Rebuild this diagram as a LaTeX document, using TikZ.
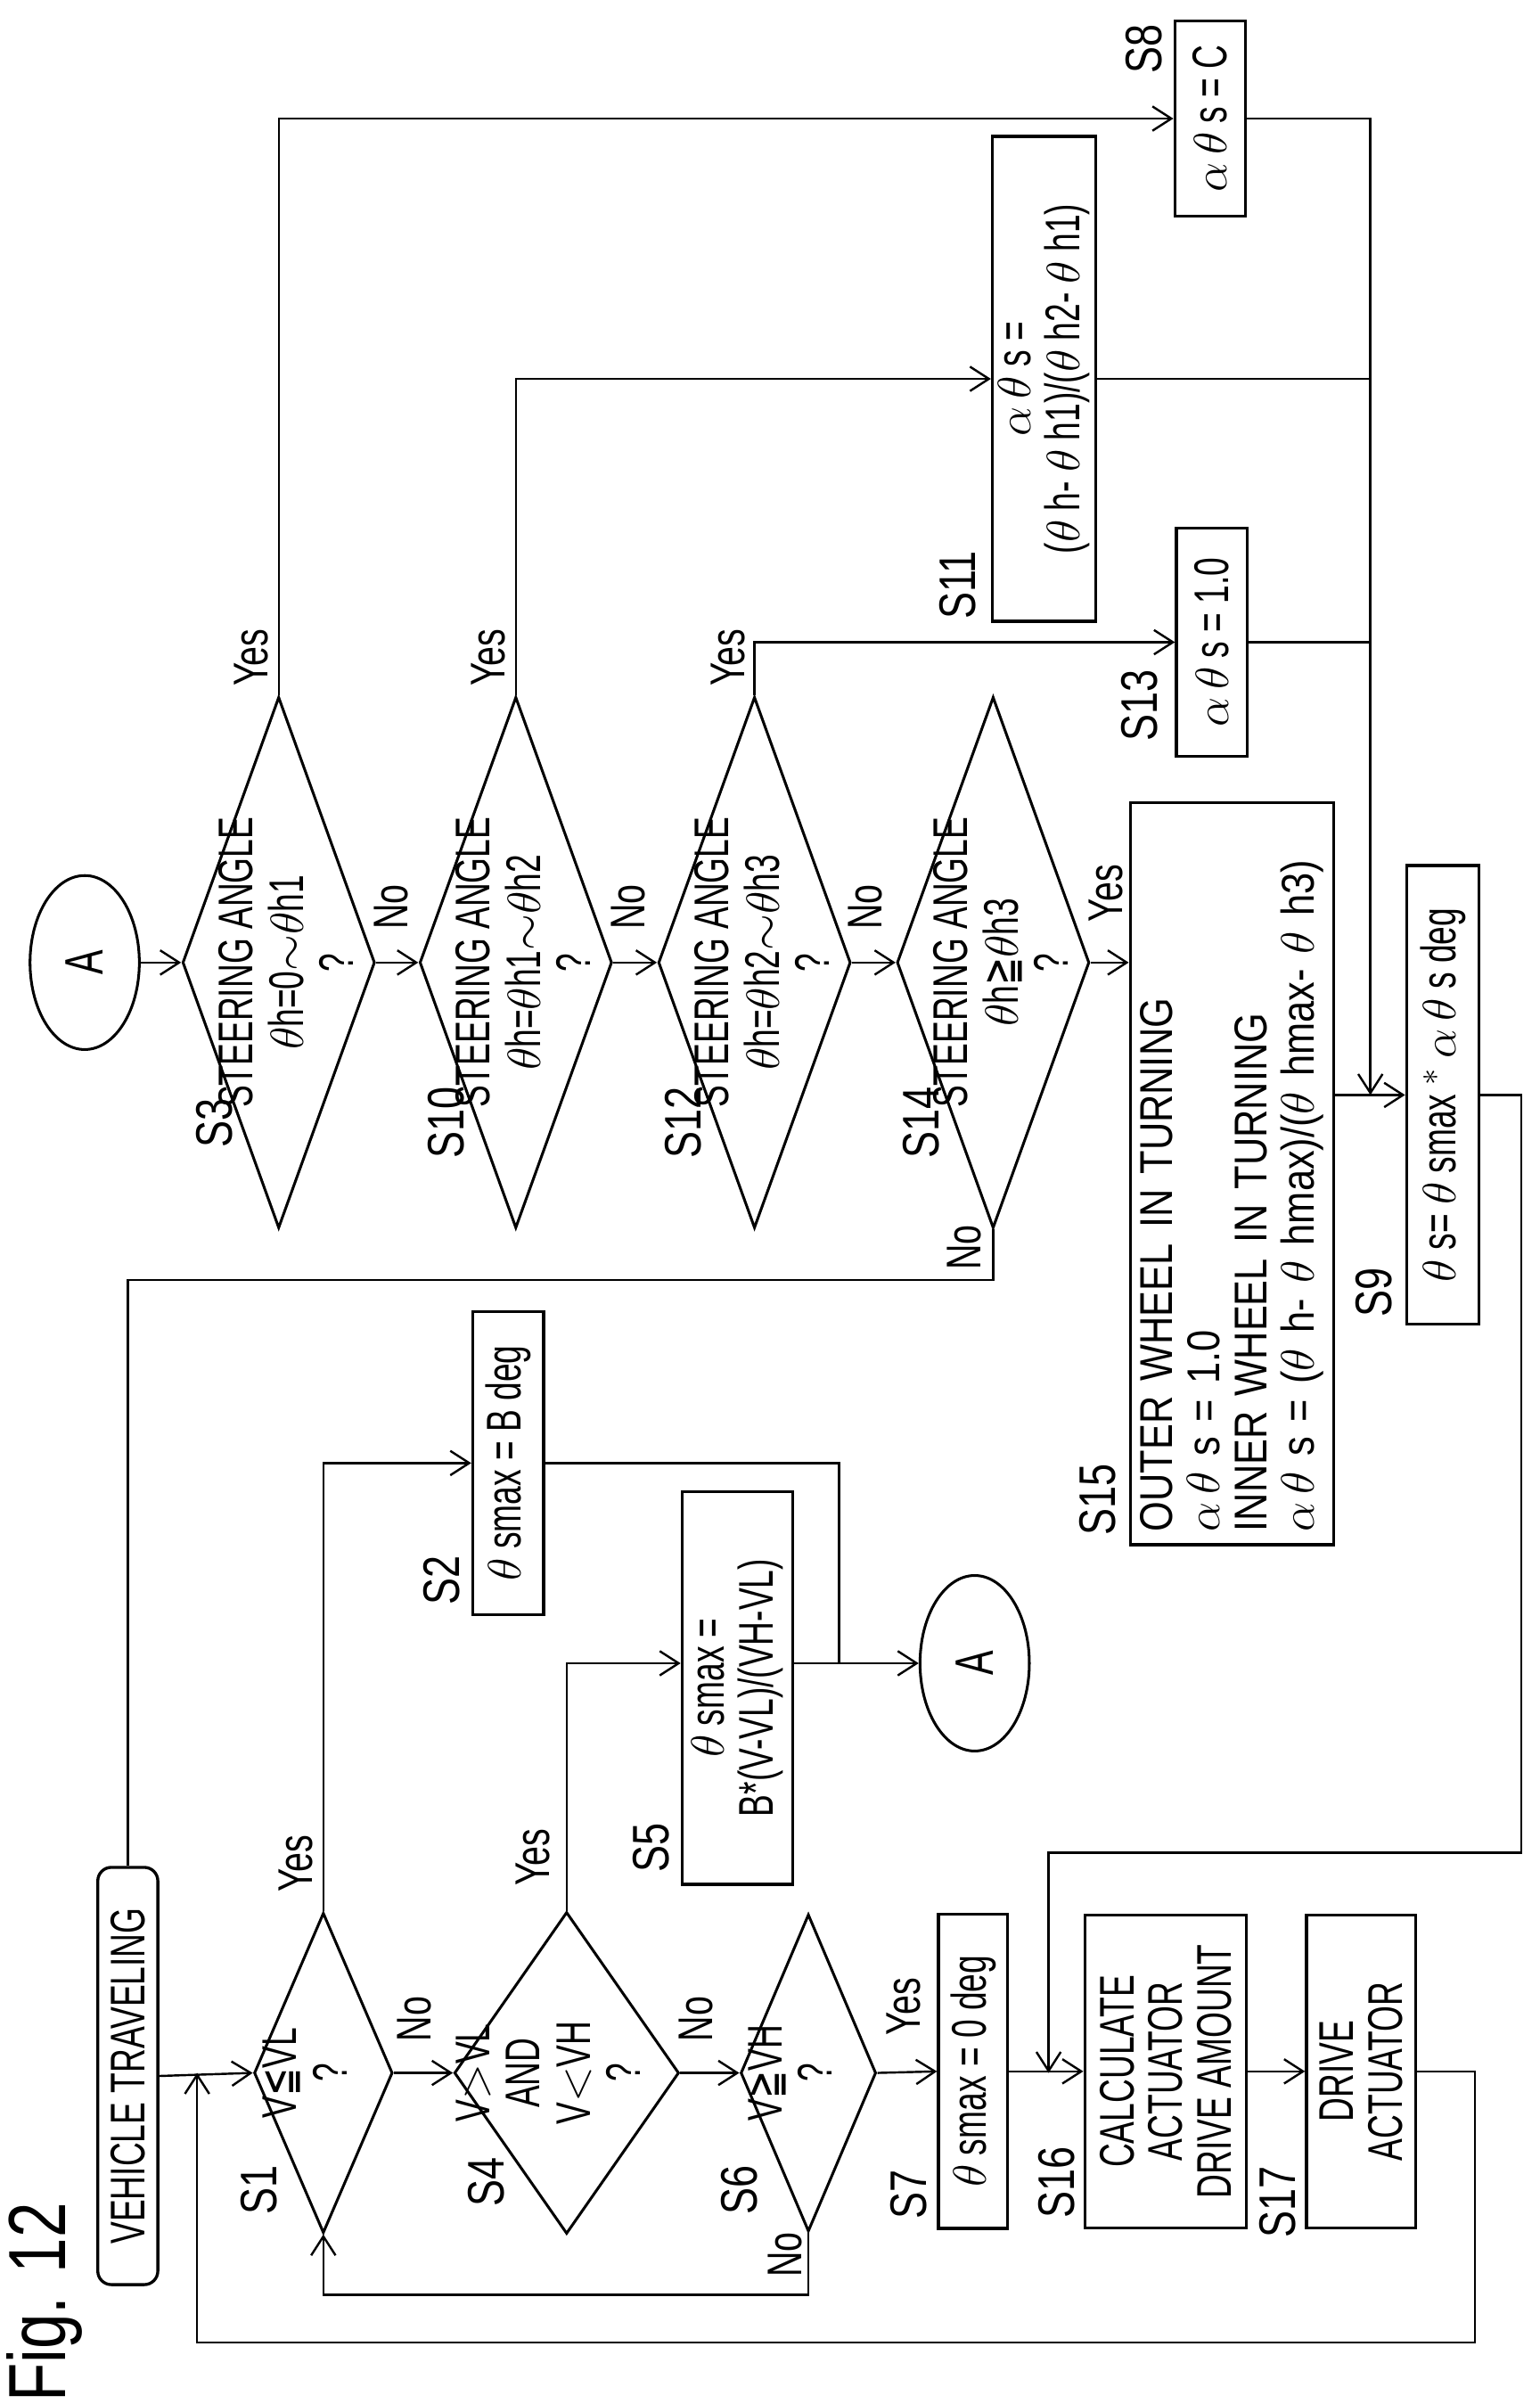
\documentclass[tikz,border=0pt]{standalone}
\usepackage{fontspec}
\setmainfont{Liberation Sans}
\newfontfamily\nf[FakeStretch=0.68]{Liberation Sans}
\newfontfamily\nfb[FakeStretch=0.72]{Liberation Sans}
\newfontfamily\stf[FakeStretch=0.78]{Liberation Sans}
\newfontfamily\wf[FakeStretch=0.84]{Liberation Sans}
\newfontfamily\dvf[FakeStretch=0.68]{DejaVu Sans}
\usetikzlibrary{shapes.geometric,arrows.meta}
\newcommand{\myle}{{\dvf ≦}}
\newcommand{\myge}{{\dvf ≧}}
\newcommand{\zt}[1]{\smash{\makebox[0pt]{\begin{tabular}{@{}c@{}}#1\end{tabular}}}}
\newcommand{\zs}[1]{\smash{\makebox[0pt]{\raisebox{-0.34cm}{\begin{tabular}{@{}c@{}}#1\end{tabular}}}}}
\begin{document}
\begin{tikzpicture}[x=0.02cm,y=-0.02cm,
  line width=0.8pt, >={Straight Barb[length=7pt,width=9pt]},
  box/.style={draw,rectangle,rotate=90,inner sep=0pt,line width=1.1pt,align=center,font=\nf\fontsize{18}{18}\selectfont},
  dia/.style={draw,diamond,rotate=90,inner sep=0pt,line width=1pt,font=\nf\fontsize{18}{18.5}\selectfont},
  ov/.style={draw,ellipse,rotate=90,inner sep=0pt,line width=1pt,font=\nf\fontsize{20}{20}\selectfont},
  st/.style={rotate=90,inner sep=0pt,font=\stf\fontsize{19}{19}\selectfont},
  yn/.style={rotate=90,inner sep=0pt,font=\nfb\fontsize{18}{18}\selectfont}]
\useasboundingbox (0,0) rectangle (1000,1561);
% nodes
\node[box,rounded corners=5pt,minimum width=5.42cm,minimum height=0.78cm] (VT) at (83,1348) {VEHICLE TRAVELING};
\node[st,font=\stf\fontsize{30}{30}\selectfont] (fig) at (29,1495) {Fig. 12};
\node[ov,minimum width=2.26cm,minimum height=1.42cm] (A1) at (55,625) {A};
\node[dia,minimum width=6.9cm,minimum height=2.5cm] (S3) at (181,625) {\zs{STEERING ANGLE\\$\theta$h=0$\sim$$\theta$h1\\?}};
\node[dia,minimum width=6.9cm,minimum height=2.5cm] (S10) at (335,625) {\zs{STEERING ANGLE\\$\theta$h=$\theta$h1$\sim$$\theta$h2\\?}};
\node[dia,minimum width=6.9cm,minimum height=2.5cm] (S12) at (490,625) {\zs{STEERING ANGLE\\$\theta$h=$\theta$h2$\sim$$\theta$h3\\?}};
\node[dia,minimum width=6.9cm,minimum height=2.5cm] (S14) at (645,625) {\zs{STEERING ANGLE\\$\theta$h\myge$\theta$h3\\?}};
\node[box,minimum width=2.54cm,minimum height=0.92cm] (S8) at (786,77) {$\alpha\,\theta$ s = C};
\node[box,minimum width=6.3cm,minimum height=1.34cm] (S11) at (678,246) {$\alpha\,\theta$ s =\\($\theta$ h- $\theta$ h1)/($\theta$ h2- $\theta$ h1)};
\node[box,minimum width=2.96cm,minimum height=0.92cm] (S13) at (787,417) {$\alpha\,\theta$ s = 1.0};
\node[box,minimum width=9.64cm,minimum height=2.64cm,text width=9.3cm,align=left,font=\wf\fontsize{17}{17.5}\selectfont] (S15) at (800,762) {OUTER WHEEL IN TURNING\\$\alpha\,\theta$ s = 1.0\\INNER WHEEL IN TURNING\\$\alpha\,\theta$ s = ($\theta$ h- $\theta$ hmax)/($\theta$ hmax- $\theta$ h3)};
\node[box,minimum width=5.96cm,minimum height=0.94cm] (S9) at (937,711) {$\theta$ s= $\theta$ smax $^*$ $\alpha\,\theta$ s deg};
\node[box,minimum width=3.94cm,minimum height=0.92cm] (S2) at (330,950) {$\theta$ smax = B deg};
\node[box,minimum width=5.1cm,minimum height=1.44cm] (S5) at (479,1096) {$\theta$ smax =\\B*(V-VL)/(VH-VL)};
\node[ov,minimum width=2.28cm,minimum height=1.42cm] (A2) at (633,1080) {A};
\node[dia,minimum width=4.16cm,minimum height=1.8cm] (S1) at (210,1346) {\zt{V\myle VL\\?}};
\node[dia,minimum width=4.18cm,minimum height=2.92cm] (S4) at (368,1346) {\zt{V$>$VL\\AND\\V$<$VH\\?}};
\node[dia,minimum width=4.12cm,minimum height=1.76cm] (S6) at (525,1346) {\zt{V\myge VH\\?}};
\node[box,minimum width=4.08cm,minimum height=0.9cm] (S7) at (632,1345) {$\theta$ smax = 0 deg};
\node[box,minimum width=4.06cm,minimum height=2.1cm] (S16) at (757,1345) {CALCULATE\\ACTUATOR\\DRIVE AMOUNT};
\node[box,minimum width=4.06cm,minimum height=1.42cm] (S17) at (884,1345) {DRIVE\\ACTUATOR};
% step labels
\node[st] (l1) at (168,1422) {S1};
\node[st] (l4) at (316,1417) {S4};
\node[st] (l6) at (480,1422) {S6};
\node[st] (l7) at (590,1425) {S7};
\node[st] (l16) at (686,1417) {S16};
\node[st] (l17) at (830,1430) {S17};
\node[st] (l2) at (287,1026) {S2};
\node[st] (l5) at (423,1200) {S5};
\node[st] (l3) at (139,729) {S3};
\node[st] (l10) at (290,729) {S10};
\node[st] (l12) at (444,729) {S12};
\node[st] (l14) at (598,729) {S14};
\node[st] (l11) at (622,380) {S11};
\node[st] (l13) at (740,458) {S13};
\node[st] (l8) at (743,32) {S8};
\node[st] (l15) at (713,974) {S15};
\node[st] (l9) at (892,839) {S9};
% yes/no
\node[yn] (y1) at (192,1210) {Yes};
\node[yn] (y4) at (346,1206) {Yes};
\node[yn] (y6) at (587,1303) {Yes};
\node[yn] (n1) at (269,1311) {No};
\node[yn] (n4) at (452,1311) {No};
\node[yn] (n6) at (510,1464) {No};
\node[yn] (y3) at (163,427) {Yes};
\node[yn] (y10) at (317,427) {Yes};
\node[yn] (y12) at (473,427) {Yes};
\node[yn] (y14) at (718,580) {Yes};
\node[yn] (n3) at (254,589) {No};
\node[yn] (n10) at (408,589) {No};
\node[yn] (n12) at (562,589) {No};
\node[yn] (n14) at (626,810) {No};
% coordinates
\coordinate (L1) at (958,1521);
\coordinate (L2) at (128,1521);
\coordinate (L3) at (128,1346);
\coordinate (N6) at (525,1490);
\coordinate (J1) at (545,1080);
\coordinate (N14) at (645,831);
\coordinate (B9) at (890,711);
\coordinate (R1) at (988,1203);
\coordinate (R2) at (681,1346);
% connectors
\draw[->] (VT.south) -- (S1.north);
\draw[->] (S17.south) -| (L1) -- (L2) -- (L3);
\draw[->] (S1.south) -- (S4.north);
\draw[->] (S4.south) -- (S6.north);
\draw[->] (S6.south) -- (S7.north);
\draw[->] (S7.south) -- (S16.north);
\draw[->] (S16.south) -- (S17.north);
\draw[->] (S6.west) -- (N6) -| (S1.west);
\draw[->] (S1.east) |- (S2.north);
\draw[->] (S4.east) -- (S4.east |- A2.center) -- (S5.north |- A2.center);
\draw (S2.south) -| (J1);
\draw (S5.south |- J1) -- (J1);
\draw[->] (J1) -- (A2.north);
\draw[->] (A1.south) -- (S3.north);
\draw[->] (S3.south) -- (S10.north);
\draw[->] (S10.south) -- (S12.north);
\draw[->] (S12.south) -- (S14.north);
\draw[->] (S14.south) -- (S15.north |- S14.south);
\draw (S14.west) -- (N14) -| (VT.east);
\draw[->] (S3.east) |- (S8.north);
\draw[->] (S10.east) |- (S11.north);
\draw[->] (S12.east) |- (S13.north);
\draw[->] (S8.south) -| (B9);
\draw (S11.south) -- (S11.south -| B9);
\draw (S13.south) -- (S13.south -| B9);
\draw[->] (S15.south |- S9.north) -- (S9.north);
\draw[->] (S9.south) -| (R1) -| (R2);
\end{tikzpicture}
\end{document}
